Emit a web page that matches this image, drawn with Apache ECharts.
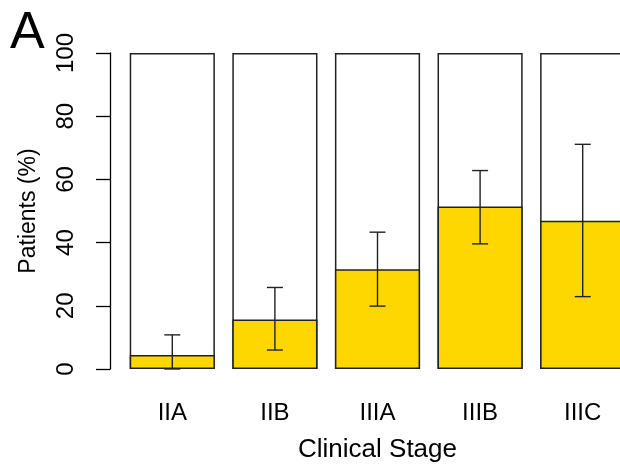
<!DOCTYPE html>
<html>
<head>
<meta charset="utf-8">
<script src="https://cdn.jsdelivr.net/npm/echarts@6/dist/echarts.min.js"></script>
<style>
  html, body { margin: 0; padding: 0; background: #fff; }
  #chart { width: 620px; height: 469px; }
</style>
</head>
<body>
<div id="chart"></div>
<script>
// Share of patients per clinical stage, with confidence intervals
const stages = ['IIA', 'IIB', 'IIIA', 'IIIB', 'IIIC'];
const patientsPct = [4.4, 15.7, 31.6, 51.4, 46.9];
const ciLower = [0, 6.0, 19.9, 39.6, 22.9];
const ciUpper = [10.8, 25.8, 43.3, 62.8, 71.1];
const fullScale = [100, 100, 100, 100, 100];
const yTicks = [0, 20, 40, 60, 80, 100];

const FONT = '"Liberation Sans", Arial, Helvetica, sans-serif';

const chart = echarts.init(document.getElementById('chart'), null, { renderer: 'canvas' });

const errorData = stages.map((s, i) => [i, ciLower[i], ciUpper[i]]);

chart.setOption({
  animation: false,
  backgroundColor: '#ffffff',
  textStyle: { fontFamily: FONT },
  graphic: [{
    type: 'text',
    left: 10,
    top: 8,
    style: { text: 'A', font: '52px ' + FONT, fill: '#000' }
  }],
  // the plotting region runs past the right edge, so the last stage is clipped
  grid: { left: 121, right: -14, top: 53, bottom: 100, outerBoundsMode: 'none', containLabel: false },
  xAxis: {
    type: 'category',
    data: stages,
    axisLine: { show: false },
    axisTick: { show: false },
    axisLabel: { color: '#000', fontSize: 24, margin: 32, fontFamily: FONT },
    name: 'Clinical Stage',
    nameLocation: 'middle',
    nameGap: 68,
    nameTextStyle: { color: '#000', fontSize: 26, fontFamily: FONT }
  },
  yAxis: {
    type: 'value',
    min: yTicks[0],
    max: yTicks[yTicks.length - 1],
    interval: 20,
    offset: 11,
    splitLine: { show: false },
    axisLine: { show: true, lineStyle: { color: '#000', width: 1.3 } },
    axisTick: { show: true, length: 14, lineStyle: { color: '#000', width: 1.3 } },
    axisLabel: {
      color: '#000', fontSize: 24, rotate: 90, margin: 32, fontFamily: FONT,
      align: 'center', verticalAlign: 'bottom'
    },
    name: 'Patients (%)',
    nameLocation: 'middle',
    nameRotate: 90,
    nameGap: 70,
    nameTextStyle: { color: '#000', fontSize: 23, fontFamily: FONT }
  },
  series: [
    {
      // full-height outline box behind each stage
      type: 'bar',
      data: fullScale,
      barCategoryGap: '17%',
      itemStyle: { color: '#ffffff', borderColor: '#222', borderWidth: 1.5 },
      silent: true,
      z: 1
    },
    {
      type: 'bar',
      data: patientsPct,
      barGap: '-100%',
      barCategoryGap: '17%',
      itemStyle: { color: '#FFD700', borderColor: '#222', borderWidth: 1.5 },
      z: 2
    },
    {
      type: 'custom',
      data: errorData,
      z: 3,
      renderItem: function (params, api) {
        const x = api.value(0);
        const lo = api.coord([x, api.value(1)]);
        const hi = api.coord([x, api.value(2)]);
        const half = 8;
        const style = { stroke: '#222', lineWidth: 1.4, fill: null };
        return {
          type: 'group',
          children: [
            { type: 'line', shape: { x1: lo[0], y1: lo[1], x2: hi[0], y2: hi[1] }, style: style },
            { type: 'line', shape: { x1: hi[0] - half, y1: hi[1], x2: hi[0] + half, y2: hi[1] }, style: style },
            { type: 'line', shape: { x1: lo[0] - half, y1: lo[1], x2: lo[0] + half, y2: lo[1] }, style: style }
          ]
        };
      }
    }
  ]
});
</script>
</body>
</html>
